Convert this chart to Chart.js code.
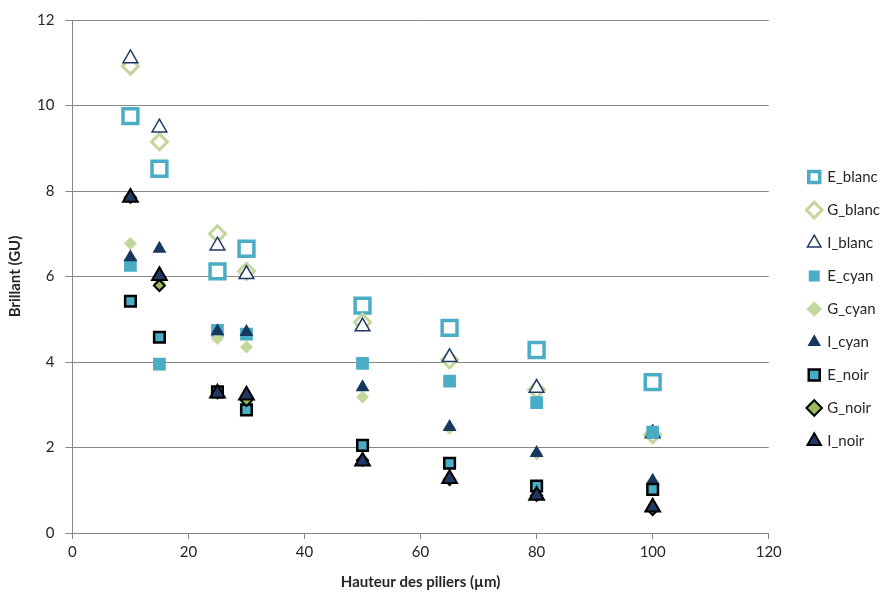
<!DOCTYPE html>
<html>
<head>
<meta charset="utf-8">
<script src="https://cdn.jsdelivr.net/npm/chart.js@4/dist/chart.umd.min.js"></script>
<style>
  html, body { margin: 0; padding: 0; background: #ffffff; }
  #wrap { width: 890px; height: 595px; }
</style>
</head>
<body>
<div id="wrap"><canvas id="c" width="890" height="595"></canvas></div>
<script>
const heights = [10, 15, 25, 30, 50, 65, 80, 100];
const seriesNames = ['E_blanc', 'G_blanc', 'I_blanc', 'E_cyan', 'G_cyan', 'I_cyan', 'E_noir', 'G_noir', 'I_noir'];
const E_blanc = [9.75, 8.52, 6.12, 6.65, 5.32, 4.80, 4.28, 3.53];
const G_blanc = [10.92, 9.15, 7.00, 6.12, 4.93, 4.05, 3.35, 2.30];
const I_blanc = [11.10, 9.48, 6.72, 6.05, 4.83, 4.11, 3.39, 2.33];
const E_cyan = [6.26, 3.95, 4.74, 4.65, 3.97, 3.55, 3.05, 2.36];
const G_cyan = [6.77, 5.85, 4.55, 4.35, 3.18, 2.45, 1.85, 1.20];
const I_cyan = [6.45, 6.65, 4.72, 4.70, 3.41, 2.48, 1.87, 1.22];
const E_noir = [5.42, 4.58, 3.30, 2.88, 2.05, 1.63, 1.10, 1.02];
const G_noir = [7.85, 5.79, 3.28, 3.10, 1.70, 1.25, 0.88, 0.55];
const I_noir = [7.85, 6.02, 3.27, 3.22, 1.68, 1.27, 0.88, 0.60];
const xTicks = [0, 20, 40, 60, 80, 100, 120];
const yTicks = [0, 2, 4, 6, 8, 10, 12];

const values = [E_blanc, G_blanc, I_blanc, E_cyan, G_cyan, I_cyan, E_noir, G_noir, I_noir];
const styles = [
  {pointStyle: 'rect', radius: 10.5, bg: '#ffffff', border: '#4BACC6', bw: 3.5},
  {pointStyle: 'rectRot', radius: 8, bg: '#ffffff', border: '#C3D69B', bw: 3},
  {pointStyle: 'triangle', radius: 8.5, bg: '#ffffff', border: '#1F3864', bw: 1.5},
  {pointStyle: 'rect', radius: 9, bg: '#4BACC6', border: '#4BACC6', bw: 0},
  {pointStyle: 'rectRot', radius: 6.5, bg: '#C3D69B', border: '#C3D69B', bw: 0},
  {pointStyle: 'triangle', radius: 8, bg: '#17375E', border: '#17375E', bw: 0},
  {pointStyle: 'rect', radius: 7.5, bg: '#4BACC6', border: '#000000', bw: 2.5},
  {pointStyle: 'rectRot', radius: 5.5, bg: '#9BBB59', border: '#000000', bw: 2},
  {pointStyle: 'triangle', radius: 8.5, bg: '#1F3864', border: '#000000', bw: 2}
];

const datasets = seriesNames.map((name, i) => ({
  label: name,
  data: heights.map((h, j) => ({x: h, y: values[i][j]})),
  pointStyle: styles[i].pointStyle,
  pointRadius: styles[i].radius,
  pointHoverRadius: styles[i].radius,
  backgroundColor: styles[i].bg,
  borderColor: styles[i].border,
  pointBorderWidth: styles[i].bw,
  borderWidth: styles[i].bw,
  showLine: false,
  order: seriesNames.length - 1 - i
}));

const font = "Lato, 'Open Sans', sans-serif";
const textColor = '#262626';

new Chart(document.getElementById('c'), {
  type: 'scatter',
  data: { datasets },
  options: {
    responsive: false,
    animation: false,
    layout: { padding: { top: 11, right: 0, bottom: 4, left: 6 } },
    plugins: {
      tooltip: { enabled: false },
      legend: {
        position: 'right',
        reverse: true,
        title: { display: true, text: ' ', font: { size: 10 }, padding: 2 },
        labels: {
          usePointStyle: true,
          color: textColor,
          font: { family: font, size: 15 },
          padding: 18,
          boxWidth: 11,
          boxHeight: 11
        }
      }
    },
    scales: {
      x: {
        type: 'linear',
        min: 0, max: 120,
        afterBuildTicks: (axis) => { axis.ticks = xTicks.map(v => ({value: v})); },
        grid: { drawOnChartArea: false, drawTicks: true, tickLength: 6, color: '#888888' },
        border: { display: true, color: '#888888', width: 1 },
        ticks: { color: textColor, font: { family: font, size: 15 }, padding: 4 },
        title: { display: true, text: 'Hauteur des piliers (µm)', color: textColor, font: { family: font, size: 15, weight: 'bold' }, padding: { top: 8, bottom: 0 } }
      },
      y: {
        type: 'linear',
        min: 0, max: 12,
        afterBuildTicks: (axis) => { axis.ticks = yTicks.map(v => ({value: v})); },
        grid: { drawOnChartArea: true, drawTicks: true, tickLength: 7, color: '#888888' },
        border: { display: true, color: '#888888', width: 1 },
        ticks: { color: textColor, font: { family: font, size: 15 }, padding: 11 },
        title: { display: true, text: 'Brillant (GU)', color: textColor, font: { family: font, size: 15, weight: 'bold' }, padding: { top: 0, bottom: 2 } }
      },
      gap: {
        type: 'linear',
        position: 'right',
        display: true,
        min: 0, max: 1,
        grid: { display: false, drawOnChartArea: false, drawTicks: false },
        border: { display: false },
        ticks: { display: false },
        afterFit: (axis) => { axis.width = 22; }
      }
    }
  }
});
</script>
</body>
</html>
